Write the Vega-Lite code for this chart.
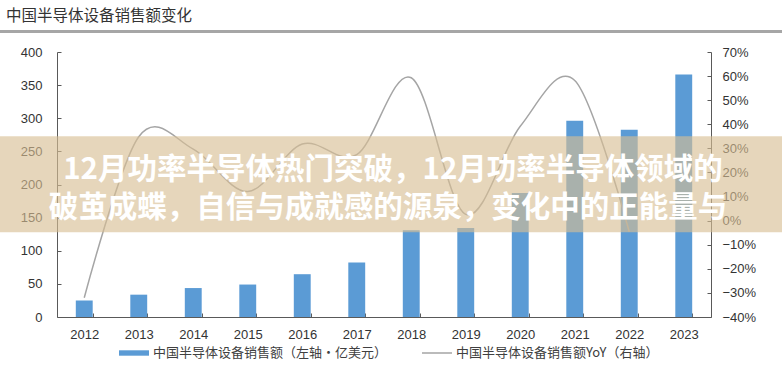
{
  "$schema": "https://vega.github.io/schema/vega-lite/v6.json",
  "width": 654,
  "height": 265,
  "autosize": {"type": "none"},
  "padding": {"left": 57, "top": 52, "right": 71, "bottom": 53},
  "background": "white",
  "config": {
    "view": {"stroke": null},
    "axis": {
      "labelFont": "Liberation Sans",
      "labelFontSize": 13,
      "labelColor": "#333333",
      "domainColor": "#595959",
      "tickColor": "#595959",
      "tickSize": -4,
      "grid": false,
      "title": null
    }
  },
  "title": {
    "text": "中国半导体设备销售额变化",
    "anchor": "start",
    "frame": "group",
    "dx": -51,
    "offset": 6,
    "font": "Noto Sans CJK SC",
    "fontSize": 15.5,
    "fontWeight": "normal",
    "color": "#333333"
  },
  "data": {
    "values": [
      {"year": "2012", "sales": 25.0, "yoy": -0.32},
      {"year": "2013", "sales": 33.7, "yoy": 0.348},
      {"year": "2014", "sales": 43.7, "yoy": 0.297},
      {"year": "2015", "sales": 49.0, "yoy": 0.121},
      {"year": "2016", "sales": 64.6, "yoy": 0.318},
      {"year": "2017", "sales": 82.3, "yoy": 0.274},
      {"year": "2018", "sales": 131.1, "yoy": 0.593},
      {"year": "2019", "sales": 134.5, "yoy": 0.026},
      {"year": "2020", "sales": 187.2, "yoy": 0.392},
      {"year": "2021", "sales": 296.2, "yoy": 0.582},
      {"year": "2022", "sales": 282.7, "yoy": -0.046},
      {"year": "2023", "sales": 366.0, "yoy": null}
    ]
  },
  "layer": [
    {
      "mark": {"type": "bar"},
      "encoding": {
        "x": {
          "field": "year",
          "type": "ordinal",
          "scale": {"paddingInner": 0.69, "paddingOuter": 0.345},
          "axis": {"labelAngle": 0, "labelPadding": 15, "tickBand": "extent"}
        },
        "y": {
          "field": "sales",
          "type": "quantitative",
          "scale": {"domain": [0, 400], "nice": false},
          "axis": {"orient": "left", "values": [0, 50, 100, 150, 200, 250, 300, 350, 400], "labelPadding": 19}
        },
        "fill": {
          "datum": "中国半导体设备销售额（左轴·亿美元）",
          "scale": {"range": ["#5B9BD5"]},
          "legend": {
            "orient": "none",
            "legendX": 61,
            "legendY": 285,
            "title": null,
            "symbolType": "M-1,-0.18H1V0.18H-1Z",
            "symbolSize": 900,
            "labelFont": "Noto Sans CJK SC",
            "labelFontSize": 13,
            "labelColor": "#404040",
            "labelLimit": 400,
            "labelOffset": 3
          }
        }
      }
    },
    {
      "mark": {"type": "line", "interpolate": "cardinal", "strokeWidth": 1.5},
      "encoding": {
        "x": {"field": "year", "type": "ordinal"},
        "y": {
          "field": "yoy",
          "type": "quantitative",
          "scale": {"domain": [-0.4, 0.7], "nice": false},
          "axis": {"orient": "right", "format": ".0%", "values": [-0.4, -0.3, -0.2, -0.1, 0, 0.1, 0.2, 0.3, 0.4, 0.5, 0.6, 0.7], "labelPadding": 15}
        },
        "stroke": {
          "datum": "中国半导体设备销售额YoY（右轴）",
          "scale": {"range": ["#A5A5A5"]},
          "legend": {
            "orient": "none",
            "legendX": 364,
            "legendY": 285,
            "title": null,
            "symbolType": "stroke",
            "symbolSize": 900,
            "symbolStrokeWidth": 1.5,
            "labelFont": "Noto Sans CJK SC",
            "labelFontSize": 13,
            "labelColor": "#404040",
            "labelLimit": 400,
            "labelOffset": 3
          }
        }
      }
    },
    {
      "data": {"values": [{}]},
      "mark": {"type": "rect", "color": "#D8BE94", "opacity": 0.63},
      "encoding": {
        "x": {"value": -57},
        "x2": {"value": 725},
        "y": {"datum": 273, "type": "quantitative", "scale": {"domain": [0, 400], "nice": false}, "axis": null},
        "y2": {"datum": 128}
      }
    },
    {
      "data": {"values": [{"t": "12月功率半导体热门突破，12月功率半导体领域的"}]},
      "mark": {"type": "text", "font": "Noto Sans CJK SC", "fontWeight": "bold", "fontSize": 29.5, "color": "white", "align": "center", "baseline": "middle"},
      "encoding": {
        "text": {"field": "t"},
        "x": {"value": 336},
        "y": {"datum": 222, "type": "quantitative", "scale": {"domain": [0, 400], "nice": false}, "axis": null}
      }
    },
    {
      "data": {"values": [{"t": "破茧成蝶，自信与成就感的源泉，变化中的正能量与"}]},
      "mark": {"type": "text", "font": "Noto Sans CJK SC", "fontWeight": "bold", "fontSize": 29.5, "color": "white", "align": "center", "baseline": "middle"},
      "encoding": {
        "text": {"field": "t"},
        "x": {"value": 331},
        "y": {"datum": 164.5, "type": "quantitative", "scale": {"domain": [0, 400], "nice": false}, "axis": null}
      }
    },
    {
      "data": {"values": [{}]},
      "mark": {"type": "rule", "color": "#A6A6A6", "strokeWidth": 3},
      "encoding": {
        "x": {"value": -57},
        "x2": {"value": 725},
        "y": {"value": -20.5}
      }
    }
  ],
  "resolve": {"scale": {"y": "independent"}}
}
